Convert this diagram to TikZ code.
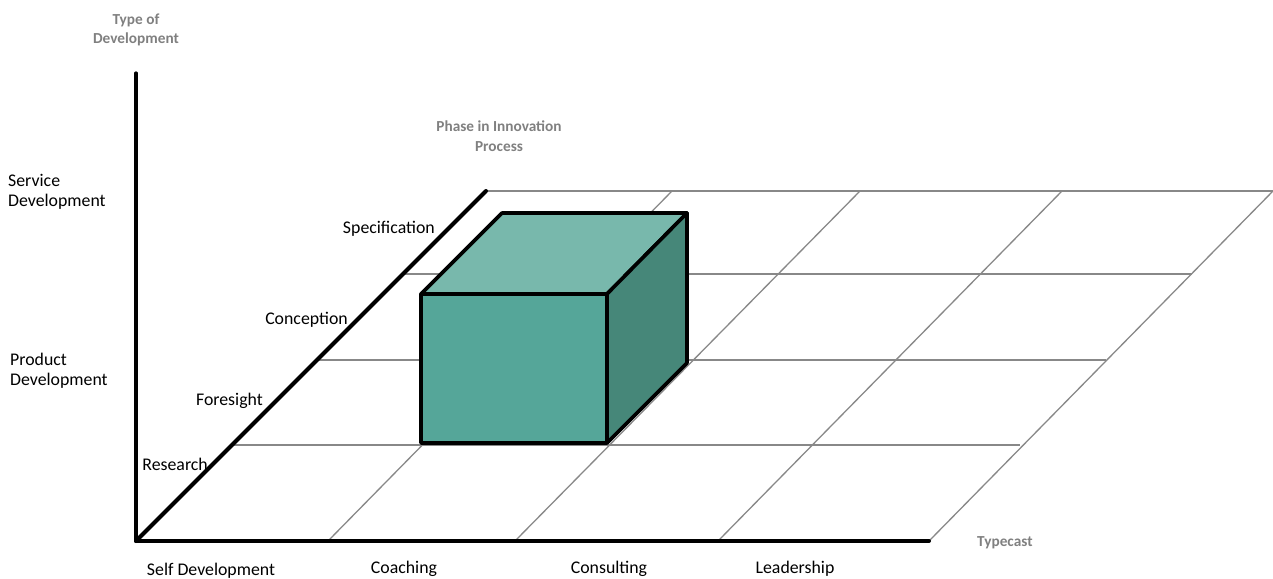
\documentclass[tikz,border=0pt]{standalone}
\usepackage{fontspec}
\setmainfont{Carlito}
\definecolor{gridgray}{RGB}{136,136,136}
\definecolor{axisgray}{RGB}{128,128,128}
\definecolor{cubefront}{RGB}{85,166,153}
\definecolor{cubetop}{RGB}{120,184,172}
\definecolor{cubeside}{RGB}{70,135,121}
\begin{document}
\begin{tikzpicture}[x=1pt,y=-1pt,
  gridline/.style={draw=gridgray,line width=1.3pt},
  axisline/.style={draw=black,line width=4pt,line cap=round},
  cubeface/.style={draw=black,line width=3.6pt,line join=round},
  lab/.style={font=\fontsize{17.8}{20}\selectfont,text=black,inner sep=0pt},
  glab/.style={font=\bfseries\fontsize{15.3}{19.5}\selectfont,text=axisgray,inner sep=0pt,align=center}]
\useasboundingbox (0,0) rectangle (1273,578);
% origin and axis points
\coordinate (O) at (136,541);
\coordinate (Vtop) at (136,73);
\coordinate (Hend) at (929,541);
\coordinate (Dtop) at (486,191);
% grid corners
\coordinate (TR) at (1273,191);
% horizontal grid lines
\coordinate (h1a) at (403,274); \coordinate (h1b) at (1192,274);
\coordinate (h2a) at (317,360); \coordinate (h2b) at (1106,360);
\coordinate (h3a) at (232,445); \coordinate (h3b) at (1020,445);
% slanted grid lines
\coordinate (s1a) at (328,541); \coordinate (s1b) at (672,191);
\coordinate (s2a) at (515,541); \coordinate (s2b) at (860,191);
\coordinate (s3a) at (718,541); \coordinate (s3b) at (1062,191);
\draw[gridline] (Dtop) -- (TR);
\draw[gridline] (h1a) -- (h1b);
\draw[gridline] (h2a) -- (h2b);
\draw[gridline] (h3a) -- (h3b);
\draw[gridline] (s1a) -- (s1b);
\draw[gridline] (s2a) -- (s2b);
\draw[gridline] (s3a) -- (s3b);
\draw[gridline] (Hend) -- (TR);
% cube
\coordinate (cA) at (421,294);
\coordinate (cB) at (607,294);
\coordinate (cC) at (607,443);
\coordinate (cD) at (421,443);
\coordinate (cE) at (502,213);
\coordinate (cF) at (687,213);
\coordinate (cG) at (687,363);
\filldraw[cubeface,fill=cubetop] (cA) -- (cE) -- (cF) -- (cB) -- cycle;
\filldraw[cubeface,fill=cubeside] (cB) -- (cF) -- (cG) -- (cC) -- cycle;
\filldraw[cubeface,fill=cubefront] (cA) -- (cB) -- (cC) -- (cD) -- cycle;
% axes
\draw[axisline,line width=3.2pt] (O) -- (Vtop);
\draw[axisline] (O) -- (Hend);
\draw[axisline] (O) -- (Dtop);
% labels
\node[glab] (tod) at (136,30) {Type of\\Development};
\node[glab] (pip) at (499,136) {Phase in Innovation\\Process};
\node[glab,anchor=west] (tc) at (977,543) {Typecast};
\node[lab,anchor=west,align=left] (sd) at (8,192) {Service\\Development};
\node[lab,anchor=west,align=left] (pd) at (10,371) {Product\\Development};
\node[lab,anchor=east] (spec) at (435,229) {Specification};
\node[lab,anchor=east] (conc) at (348,320) {Conception};
\node[lab,anchor=east] (fore) at (263,401) {Foresight};
\node[lab,anchor=east] (res) at (208,464) {Research};
\node[lab] (self) at (211,571) {Self Development};
\node[lab] (coach) at (404,569) {Coaching};
\node[lab] (cons) at (609,569) {Consulting};
\node[lab] (lead) at (795,569) {Leadership};
\end{tikzpicture}
\end{document}
